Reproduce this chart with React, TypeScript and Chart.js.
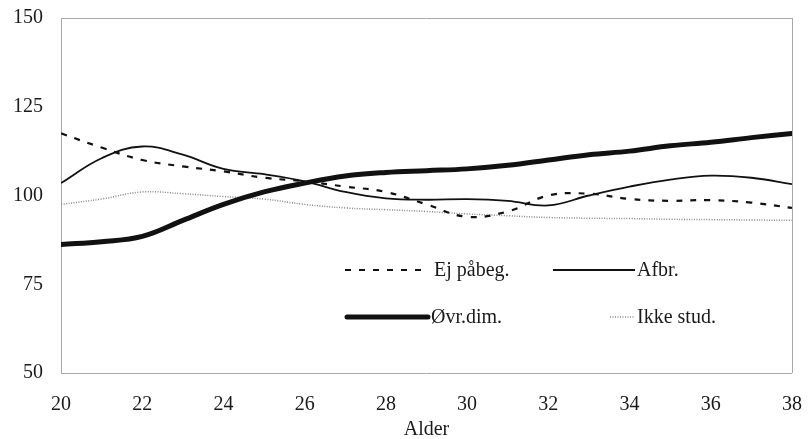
import React, { useEffect, useRef } from "react";
import { Chart, registerables } from "chart.js";

Chart.register(...registerables);

const ages = [20, 21, 22, 23, 24, 25, 26, 27, 28, 29, 30, 31, 32, 33, 34, 35, 36, 37, 38];
const ejPaabeg = [117.5, 113.5, 110, 108.2, 106.8, 105, 104, 102.5, 101, 97.5, 94, 95.5, 100, 100.5, 99, 98.5, 98.7, 98, 96.5];
const afbr = [103.5, 110.5, 113.8, 111.5, 107.5, 106, 104, 101, 99.2, 98.8, 99, 98.5, 97.2, 100, 102.5, 104.5, 105.6, 105, 103.2];
const ovrDim = [86.2, 87, 88.5, 93, 97.5, 101, 103.5, 105.5, 106.5, 107, 107.5, 108.5, 110, 111.5, 112.5, 114, 115, 116.3, 117.5];
const ikkeStud = [97.5, 99, 101, 100.5, 99.7, 99, 97.5, 96.5, 96, 95.5, 94.8, 94.3, 93.8, 93.6, 93.5, 93.3, 93.2, 93.1, 93];
const yTicks = [50, 75, 100, 125, 150];
const xTicks = [20, 22, 24, 26, 28, 30, 32, 34, 36, 38];
const seriesNames = ["Ej påbeg.", "Afbr.", "Øvr.dim.", "Ikke stud."];

const FONT = "'Liberation Serif', 'DejaVu Serif', serif";

const toPoints = (vals: number[]) => ages.map((a, i) => ({ x: a, y: vals[i] }));

const legendPlugin = {
  id: "customLegend",
  afterDraw(chart: any) {
    const ctx = chart.ctx;
    const items = [
      { name: seriesNames[0], x0: 345, x1: 428, tx: 434, y: 270, w: 2.2, dash: [6, 8], color: "#111" },
      { name: seriesNames[1], x0: 553, x1: 635, tx: 637, y: 270, w: 1.8, dash: [], color: "#111" },
      { name: seriesNames[2], x0: 347, x1: 428, tx: 431, y: 317, w: 5, dash: [], color: "#111" },
      { name: seriesNames[3], x0: 610, x1: 634, tx: 637, y: 317, w: 1.5, dash: [1, 1.5], color: "#888" },
    ];
    ctx.save();
    items.forEach((it) => {
      ctx.beginPath();
      ctx.setLineDash(it.dash);
      ctx.lineWidth = it.w;
      ctx.strokeStyle = it.color;
      ctx.lineCap = it.w > 3 ? "round" : "butt";
      ctx.moveTo(it.x0, it.y);
      ctx.lineTo(it.x1, it.y);
      ctx.stroke();
      ctx.setLineDash([]);
      ctx.fillStyle = "#1a1a1a";
      ctx.font = `20px ${FONT}`;
      ctx.textBaseline = "alphabetic";
      ctx.textAlign = "left";
      ctx.fillText(it.name, it.tx, it.y + 6);
    });
    ctx.restore();
  },
};

export default function App() {
  const ref = useRef<HTMLCanvasElement>(null);
  useEffect(() => {
    document.body.style.margin = "0";
    const chart = new Chart(ref.current!, {
      type: "line",
      data: {
        datasets: [
          { label: seriesNames[0], data: toPoints(ejPaabeg), borderColor: "#111", borderWidth: 2.2, borderDash: [6, 8], tension: 0.4, pointRadius: 0 },
          { label: seriesNames[1], data: toPoints(afbr), borderColor: "#111", borderWidth: 1.8, tension: 0.4, pointRadius: 0 },
          { label: seriesNames[2], data: toPoints(ovrDim), borderColor: "#111", borderWidth: 5, tension: 0.4, pointRadius: 0, borderCapStyle: "round" },
          { label: seriesNames[3], data: toPoints(ikkeStud), borderColor: "#888", borderWidth: 1.5, borderDash: [1, 1.5], tension: 0.4, pointRadius: 0 },
        ] as any,
      },
      options: {
        responsive: false,
        animation: false,
        layout: { autoPadding: false, padding: { top: 18, right: 20, left: 0, bottom: 0 } },
        plugins: { legend: { display: false }, tooltip: { enabled: false } },
        scales: {
          x: {
            type: "linear",
            min: 20,
            max: 38,
            afterBuildTicks: (s: any) => { s.ticks = xTicks.map((v) => ({ value: v })); },
            afterFit: (s: any) => {
              s.height = 66;
              s.paddingLeft = 0;
              s.paddingRight = 0;
            },
            grid: {
              drawTicks: false,
              color: (c: any) => (c.tick && (c.tick.value === 20 || c.tick.value === 38) ? "#a8a8a8" : "rgba(0,0,0,0)"),
              lineWidth: 1,
            },
            border: { display: false },
            ticks: { padding: 20, color: "#1a1a1a", font: { family: FONT, size: 20 }, maxRotation: 0 },
            title: { display: true, text: "Alder", color: "#1a1a1a", font: { family: FONT, size: 20 }, padding: { top: 0, bottom: -3 } },
          },
          y: {
            min: 50,
            max: 150,
            afterBuildTicks: (s: any) => { s.ticks = yTicks.map((v) => ({ value: v })); },
            afterFit: (s: any) => {
              s.width = 61;
              s.paddingTop = 0;
              s.paddingBottom = 0;
            },
            grid: {
              drawTicks: false,
              color: (c: any) => (c.tick && (c.tick.value === 50 || c.tick.value === 150) ? "#a8a8a8" : "rgba(0,0,0,0)"),
              lineWidth: 1,
            },
            border: { display: false },
            ticks: { padding: 18, color: "#1a1a1a", font: { family: FONT, size: 20 } },
          },
        },
      } as any,
      plugins: [legendPlugin],
    });
    return () => chart.destroy();
  }, []);
  return (
    <div style={{ position: "absolute", left: 0, top: 0, width: 812, height: 439, background: "#fff" }}>
      <canvas ref={ref} width={812} height={439} style={{ width: 812, height: 439 }} />
    </div>
  );
}
